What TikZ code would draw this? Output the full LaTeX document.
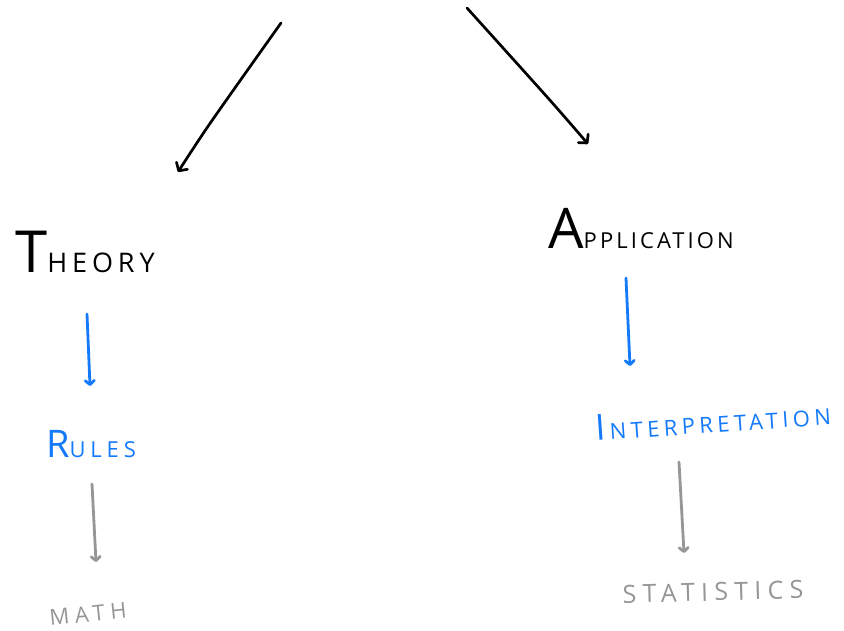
\documentclass[tikz,border=0pt]{standalone}
\usepackage{fontspec}
\setmainfont{Open Sans}
\usetikzlibrary{arrows.meta,calc}
\definecolor{penblue}{RGB}{20,122,250}
\definecolor{pengray}{RGB}{150,150,150}
\tikzset{
  lbl/.style={inner sep=0pt, anchor=center},
  ink/.style={line width=2.7pt, line cap=round, line join=round, -{Straight Barb[length=6pt,width=13pt,round]}},
  inkb/.style={line width=2.8pt, line cap=round, line join=round, -{Straight Barb[length=4pt,width=9pt,round]}},
}
\begin{document}
\begin{tikzpicture}[x=1pt,y=-1pt]
\useasboundingbox (0,0) rectangle (844,631);
\node[lbl] (theory) at (85,252) {{\fontsize{58}{58}\selectfont T}{\fontsize{27}{27}\selectfont\addfontfeatures{LetterSpace=18}HEORY}};
\node[lbl] (app) at (641,229) {{\fontsize{56}{56}\selectfont A}{\fontsize{22}{22}\selectfont\addfontfeatures{LetterSpace=14}PPLICATION}};
\node[lbl, penblue] (rules) at (91,444) {{\fontsize{38}{38}\selectfont R}{\fontsize{22}{22}\selectfont\addfontfeatures{LetterSpace=22}ULES}};
\node[lbl, penblue, rotate=4] (interp) at (713,420) {{\fontsize{36}{36}\selectfont I\kern4pt}{\fontsize{22}{22}\selectfont\addfontfeatures{LetterSpace=20}NTERPRETATION}};
\node[lbl, pengray, rotate=6] (math) at (88,614) {{\fontsize{22}{22}\selectfont\addfontfeatures{LetterSpace=25}MATH}};
\node[lbl, pengray, rotate=1.5] (stats) at (713,592) {{\fontsize{25}{25}\selectfont\addfontfeatures{LetterSpace=25}STATISTICS}};
% top arrows (free ends)
\coordinate (s1) at (281,23);
\coordinate (t1) at (178,172);
\coordinate (s2) at (467,8);
\coordinate (t2) at (588,144);
\draw[ink] plot[smooth, tension=0.5] coordinates {(s1) (211,122) (t1)};
\draw[ink] plot[smooth, tension=0.5] coordinates {(s2) (548,98) (t2)};
% connectors
\draw[inkb, penblue] ([shift={(2,62)}]theory.center) -- ([shift={(-1,-58)}]rules.center);
\draw[inkb, penblue] ([shift={(-15,49)}]app.center) -- ([shift={(-83,-54)}]interp.center);
\draw[inkb, pengray] ([shift={(1,40)}]rules.center) -- ([shift={(8,-52)}]math.center);
\draw[inkb, pengray] ([shift={(-34,42)}]interp.center) -- ([shift={(-29,-39)}]stats.center);
\end{tikzpicture}
\end{document}
